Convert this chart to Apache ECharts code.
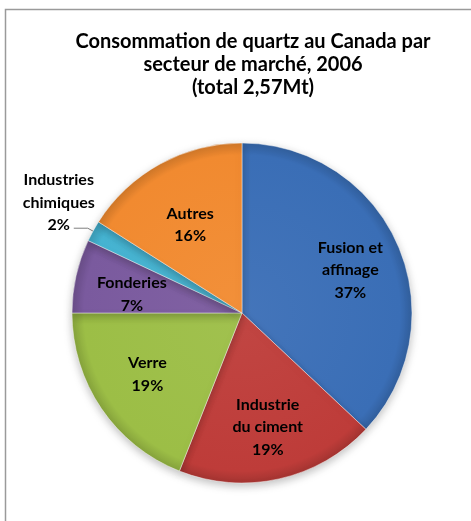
<!DOCTYPE html>
<html>
<head>
<meta charset="utf-8">
<script src="https://cdn.jsdelivr.net/npm/echarts@6/dist/echarts.min.js"></script>
<style>
html,body{margin:0;padding:0;background:#fff;}
#chart{width:471px;height:521px;}
</style>
</head>
<body>
<div id="chart"></div>
<script>
// ---- data ----
const titleText = 'Consommation de quartz au Canada par\nsecteur de marché, 2006\n(total 2,57Mt)';
const categories = ['Fusion et\naffinage', 'Industrie\ndu ciment', 'Verre', 'Fonderies', 'Industries\nchimiques', 'Autres'];
const shares = [37, 19, 19, 7, 2, 16];
const sliceColors = ['#3a6eb6', '#be3c39', '#9cbe46', '#7a5a9e', '#45b3d1', '#f18a30'];
const outsideLabelIndex = 4;

// label nudges (styling only, in px)
const labelNudge = [[0, 4], [0, -1], [3, -5], [5, 7], [-10, 8], [5, 15]];

const font = 'Lato, "Open Sans", sans-serif';
const cx = 242, cy = 313, R = 170;

function shade(hex, f) {
  const n = parseInt(hex.slice(1), 16);
  let r = (n >> 16) & 255, g = (n >> 8) & 255, b = n & 255;
  const m = v => Math.max(0, Math.min(255, Math.round(f >= 0 ? v + (255 - v) * f : v * (1 + f))));
  return 'rgb(' + m(r) + ',' + m(g) + ',' + m(b) + ')';
}

const pieData = categories.map((name, i) => ({
  name: name,
  value: shares[i],
  itemStyle: {
    color: {
      type: 'radial', x: cx, y: cy, r: R, global: true,
      colorStops: [
        { offset: 0, color: shade(sliceColors[i], 0.05) },
        { offset: 0.93, color: sliceColors[i] },
        { offset: 1, color: shade(sliceColors[i], -0.14) }
      ]
    }
  }
}));

const labelData = categories.map((name, i) => {
  const d = { name: name, value: shares[i] };
  if (i === outsideLabelIndex) {
    d.label = { position: 'outside', overflow: 'none', width: 120 };
    d.labelLine = { show: true, length: 6, length2: 14, lineStyle: { color: '#7f7f7f', width: 1 } };
  }
  return d;
});

const chart = echarts.init(document.getElementById('chart'), null, { renderer: 'canvas' });
chart.setOption({
  backgroundColor: '#ffffff',
  animation: false,
  title: {
    text: titleText,
    left: 253,
    top: 30,
    padding: 0,
    textAlign: 'center',
    textStyle: {
      fontFamily: font,
      fontWeight: 'bold',
      fontSize: 20,
      lineHeight: 23,
      color: '#000'
    }
  },
  graphic: [{
    type: 'polyline',
    silent: true,
    shape: { points: [[5.5, 521], [5.5, 9.5], [471, 9.5]] },
    style: { stroke: '#9a9a9a', lineWidth: 1.5, fill: null }
  }],
  series: [
    {
      type: 'pie',
      center: [cx, cy],
      radius: [0, R],
      startAngle: 90,
      clockwise: true,
      silent: true,
      label: { show: false },
      labelLine: { show: false },
      itemStyle: {
        borderColor: 'rgba(255,255,255,0.45)',
        borderWidth: 1,
        shadowBlur: 8,
        shadowColor: 'rgba(0,0,0,0.25)',
        shadowOffsetY: 3
      },
      data: pieData
    },
    {
      type: 'pie',
      center: [cx, cy],
      radius: [60, R],
      startAngle: 90,
      clockwise: true,
      silent: true,
      itemStyle: { color: 'rgba(0,0,0,0)' },
      label: {
        show: true,
        position: 'inside',
        formatter: '{b}\n{d}%',
        fontFamily: font,
        fontWeight: 'bold',
        fontSize: 16,
        lineHeight: 22.5,
        color: '#000'
      },
      labelLine: { show: false },
      labelLayout: function (p) {
        const n = labelNudge[p.dataIndex] || [0, 0];
        if (p.dataIndex === outsideLabelIndex) {
          return { align: 'center', verticalAlign: 'bottom', dx: n[0], dy: n[1] };
        }
        return { dx: n[0], dy: n[1] };
      },
      data: labelData
    }
  ]
});
</script>
</body>
</html>
